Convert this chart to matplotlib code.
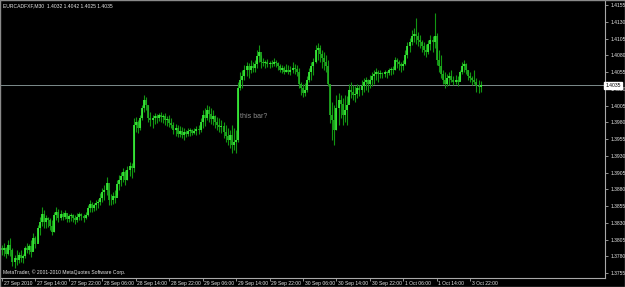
import matplotlib
matplotlib.use("Agg")
import matplotlib.pyplot as plt
from matplotlib.patches import Rectangle

# =========================
# 数据（EURCAD M30，读自截图）
# =========================
SYMBOL = "EURCADFXF,M30"
FIRST_OPEN = 1.3792

high = [
    1.3797, 1.3800, 1.3794, 1.3804, 1.3807, 1.3792, 1.3782, 1.3789, 1.3786, 1.3789,
    1.3783, 1.3795, 1.3800, 1.3798, 1.3804, 1.3815, 1.3810, 1.3827, 1.3839, 1.3854,
    1.3849, 1.3842, 1.3839, 1.3837, 1.3834, 1.3846, 1.3854, 1.3851, 1.3849, 1.3846,
    1.3849, 1.3845, 1.3843, 1.3845, 1.3843, 1.3842, 1.3845, 1.3846, 1.3845, 1.3843,
    1.3846, 1.3857, 1.3864, 1.3861, 1.3860, 1.3864, 1.3866, 1.3874, 1.3882, 1.3886,
    1.3898, 1.3879, 1.3873, 1.3876, 1.3879, 1.3894, 1.3901, 1.3906, 1.3912, 1.3909,
    1.3915, 1.3921, 1.3919, 1.3986, 1.3988, 1.3983, 1.3991, 1.4006, 1.4021, 1.4018,
    1.4006, 1.3995, 1.3991, 1.3994, 1.3992, 1.3994, 1.3995, 1.3992, 1.3994, 1.3989,
    1.3991, 1.3986, 1.3980, 1.3977, 1.3976, 1.3974, 1.3973, 1.3971, 1.3968, 1.3971,
    1.3971, 1.3970, 1.3971, 1.3974, 1.3976, 1.3986, 1.3998, 1.4001, 1.4006, 1.4004,
    1.4001, 1.3998, 1.3991, 1.3988, 1.3986, 1.3983, 1.3980, 1.3976, 1.3971, 1.3968,
    1.3976, 1.3971, 1.3968, 1.4040, 1.4055, 1.4058, 1.4065, 1.4070, 1.4068, 1.4073,
    1.4070, 1.4073, 1.4088, 1.4095, 1.4080, 1.4076, 1.4073, 1.4074, 1.4071, 1.4073,
    1.4076, 1.4073, 1.4070, 1.4067, 1.4065, 1.4064, 1.4067, 1.4065, 1.4064, 1.4070,
    1.4067, 1.4065, 1.4061, 1.4040, 1.4037, 1.4039, 1.4049, 1.4061, 1.4070, 1.4076,
    1.4095, 1.4098, 1.4095, 1.4088, 1.4085, 1.4080, 1.4073, 1.4036, 1.4010, 1.4006,
    1.4021, 1.4024, 1.4021, 1.4016, 1.4021, 1.4019, 1.4037, 1.4040, 1.4036, 1.4034,
    1.4037, 1.4036, 1.4043, 1.4046, 1.4048, 1.4045, 1.4051, 1.4055, 1.4058, 1.4061,
    1.4058, 1.4058, 1.4055, 1.4058, 1.4056, 1.4061, 1.4062, 1.4064, 1.4077, 1.4076,
    1.4073, 1.4070, 1.4073, 1.4088, 1.4100, 1.4106, 1.4118, 1.4121, 1.4136, 1.4115,
    1.4110, 1.4103, 1.4100, 1.4097, 1.4103, 1.4110, 1.4109, 1.4143, 1.4113, 1.4088,
    1.4080, 1.4058, 1.4055, 1.4052, 1.4055, 1.4058, 1.4049, 1.4051, 1.4049, 1.4058,
    1.4070, 1.4073, 1.4068, 1.4058, 1.4055, 1.4049, 1.4058, 1.4046, 1.4043, 1.4042,
]

low = [
    1.3782, 1.3780, 1.3777, 1.3782, 1.3780, 1.3765, 1.3762, 1.3767, 1.3770, 1.3771,
    1.3770, 1.3777, 1.3785, 1.3783, 1.3779, 1.3789, 1.3792, 1.3801, 1.3812, 1.3825,
    1.3822, 1.3822, 1.3824, 1.3819, 1.3812, 1.3816, 1.3834, 1.3831, 1.3834, 1.3834,
    1.3836, 1.3831, 1.3831, 1.3833, 1.3831, 1.3828, 1.3831, 1.3834, 1.3834, 1.3831,
    1.3836, 1.3840, 1.3846, 1.3846, 1.3848, 1.3849, 1.3852, 1.3857, 1.3861, 1.3864,
    1.3872, 1.3857, 1.3857, 1.3858, 1.3860, 1.3872, 1.3879, 1.3885, 1.3891, 1.3886,
    1.3894, 1.3900, 1.3897, 1.3906, 1.3965, 1.3964, 1.3968, 1.3983, 1.3995, 1.3998,
    1.3980, 1.3974, 1.3971, 1.3977, 1.3979, 1.3982, 1.3980, 1.3979, 1.3976, 1.3974,
    1.3973, 1.3971, 1.3962, 1.3959, 1.3958, 1.3958, 1.3956, 1.3954, 1.3958, 1.3959,
    1.3959, 1.3961, 1.3962, 1.3961, 1.3962, 1.3965, 1.3971, 1.3974, 1.3983, 1.3980,
    1.3977, 1.3976, 1.3971, 1.3968, 1.3965, 1.3964, 1.3956, 1.3951, 1.3946, 1.3942,
    1.3934, 1.3939, 1.3934, 1.3951, 1.4028, 1.4031, 1.4043, 1.4049, 1.4046, 1.4053,
    1.4055, 1.4055, 1.4061, 1.4070, 1.4061, 1.4064, 1.4061, 1.4062, 1.4061, 1.4062,
    1.4064, 1.4062, 1.4058, 1.4055, 1.4053, 1.4052, 1.4055, 1.4052, 1.4051, 1.4053,
    1.4052, 1.4049, 1.4031, 1.4021, 1.4018, 1.4019, 1.4025, 1.4040, 1.4043, 1.4051,
    1.4068, 1.4073, 1.4070, 1.4061, 1.4058, 1.4055, 1.4034, 1.3979, 1.3954, 1.3946,
    1.3968, 1.3976, 1.3986, 1.3976, 1.3980, 1.3976, 1.4010, 1.4016, 1.4013, 1.4010,
    1.4016, 1.4019, 1.4021, 1.4025, 1.4028, 1.4025, 1.4031, 1.4034, 1.4037, 1.4043,
    1.4040, 1.4046, 1.4046, 1.4048, 1.4046, 1.4051, 1.4051, 1.4052, 1.4058, 1.4061,
    1.4058, 1.4055, 1.4058, 1.4065, 1.4076, 1.4085, 1.4095, 1.4100, 1.4097, 1.4094,
    1.4091, 1.4085, 1.4080, 1.4077, 1.4082, 1.4088, 1.4085, 1.4091, 1.4065, 1.4055,
    1.4046, 1.4037, 1.4031, 1.4034, 1.4036, 1.4040, 1.4036, 1.4037, 1.4034, 1.4043,
    1.4052, 1.4055, 1.4052, 1.4043, 1.4040, 1.4036, 1.4037, 1.4025, 1.4024, 1.4025,
]

close = [
    1.3789, 1.3792, 1.3783, 1.3797, 1.3789, 1.3771, 1.3777, 1.3774, 1.3782, 1.3777,
    1.3780, 1.3792, 1.3789, 1.3795, 1.3786, 1.3807, 1.3798, 1.3822, 1.3831, 1.3843,
    1.3831, 1.3837, 1.3834, 1.3825, 1.3816, 1.3842, 1.3846, 1.3837, 1.3843, 1.3839,
    1.3845, 1.3836, 1.3840, 1.3842, 1.3837, 1.3834, 1.3839, 1.3843, 1.3840, 1.3837,
    1.3842, 1.3852, 1.3858, 1.3852, 1.3857, 1.3860, 1.3861, 1.3867, 1.3876, 1.3879,
    1.3889, 1.3864, 1.3864, 1.3870, 1.3867, 1.3888, 1.3894, 1.3900, 1.3906, 1.3894,
    1.3909, 1.3915, 1.3912, 1.3976, 1.3980, 1.3971, 1.3986, 1.4001, 1.4013, 1.4006,
    1.3986, 1.3983, 1.3986, 1.3989, 1.3986, 1.3991, 1.3988, 1.3989, 1.3983, 1.3985,
    1.3979, 1.3976, 1.3968, 1.3971, 1.3962, 1.3967, 1.3961, 1.3965, 1.3962, 1.3967,
    1.3968, 1.3964, 1.3967, 1.3970, 1.3968, 1.3980, 1.3991, 1.3986, 1.3998, 1.3992,
    1.3985, 1.3989, 1.3980, 1.3976, 1.3973, 1.3974, 1.3965, 1.3959, 1.3954, 1.3961,
    1.3946, 1.3951, 1.3954, 1.4031, 1.4043, 1.4049, 1.4058, 1.4064, 1.4058, 1.4064,
    1.4061, 1.4067, 1.4079, 1.4085, 1.4070, 1.4068, 1.4070, 1.4067, 1.4068, 1.4067,
    1.4070, 1.4068, 1.4064, 1.4058, 1.4061, 1.4055, 1.4058, 1.4055, 1.4058, 1.4061,
    1.4059, 1.4055, 1.4037, 1.4031, 1.4024, 1.4028, 1.4043, 1.4055, 1.4064, 1.4070,
    1.4088, 1.4091, 1.4082, 1.4076, 1.4070, 1.4064, 1.4037, 1.3991, 1.3983, 1.3968,
    1.4001, 1.4013, 1.4007, 1.3991, 1.3998, 1.4006, 1.4028, 1.4025, 1.4021, 1.4022,
    1.4031, 1.4028, 1.4034, 1.4040, 1.4043, 1.4037, 1.4043, 1.4049, 1.4052, 1.4055,
    1.4052, 1.4053, 1.4052, 1.4055, 1.4053, 1.4058, 1.4059, 1.4058, 1.4073, 1.4070,
    1.4067, 1.4064, 1.4067, 1.4080, 1.4094, 1.4100, 1.4109, 1.4112, 1.4109, 1.4103,
    1.4100, 1.4094, 1.4088, 1.4085, 1.4097, 1.4103, 1.4100, 1.4109, 1.4073, 1.4064,
    1.4052, 1.4043, 1.4037, 1.4046, 1.4049, 1.4043, 1.4040, 1.4043, 1.4040, 1.4055,
    1.4064, 1.4067, 1.4058, 1.4049, 1.4046, 1.4043, 1.4040, 1.4034, 1.4032, 1.4035,
]

time_labels = [
    "27 Sep 2010", "27 Sep 14:00", "27 Sep 22:00", "28 Sep 06:00", "28 Sep 14:00",
    "28 Sep 22:00", "29 Sep 06:00", "29 Sep 14:00", "29 Sep 22:00", "30 Sep 06:00",
    "30 Sep 14:00", "30 Sep 22:00", "1 Oct 06:00", "1 Oct 14:00", "3 Oct 22:00",
]
LABEL_STEP = 16  # 每 16 根 M30 = 8 小时一个时间标签

price_ticks = [1.4155, 1.4130, 1.4105, 1.4080, 1.4055, 1.4030, 1.4005, 1.3980,
               1.3955, 1.3930, 1.3905, 1.3880, 1.3855, 1.3830, 1.3805, 1.3780, 1.3755]

NOTE_TEXT = "this bar?"
NOTE_BAR = 114
NOTE_PRICE = 1.3988

# =========================
# 配色（MT4 Green on Black）
# =========================
BG = "#000000"
FG = "#e6e6e6"
AXIS = "#a8a8a8"
WICK = "#129612"
UP = "#3cf53c"
DOWN = "#22b422"
PRICE_LINE = "#7d8c8c"
SMALL = 3.6  # 截图是缩小过的，字号很小

plt.rcParams["font.family"] = ["Liberation Sans", "DejaVu Sans"]

opens = [FIRST_OPEN] + close[:-1]
n = len(close)
xs = list(range(n))

fig = plt.figure(figsize=(6.25, 2.87), dpi=100)
fig.patch.set_facecolor(BG)
ax = fig.add_axes([1 / 625, 1 - 278 / 287, 604 / 625, 277 / 287])
ax.set_facecolor(BG)

ax.set_xlim(-0.5, 288.5)
ax.set_ylim(1.37476, 1.41610)

# 影线 + 实体
ax.vlines(xs, low, high, color=WICK, lw=0.8, zorder=2)
up_x = [i for i in xs if close[i] >= opens[i]]
dn_x = [i for i in xs if close[i] < opens[i]]
ax.vlines(up_x, [opens[i] for i in up_x], [close[i] for i in up_x], color=UP, lw=1.2, zorder=3)
ax.vlines(dn_x, [close[i] for i in dn_x], [opens[i] for i in dn_x], color=DOWN, lw=1.2, zorder=3)

# 当前价水平线
last = close[-1]
ax.axhline(last, color=PRICE_LINE, lw=0.7, zorder=1)

# 右侧价格轴
ax.yaxis.tick_right()
ax.set_yticks(price_ticks)
ax.set_yticklabels([f"{p:.4f}" for p in price_ticks])
ax.tick_params(axis="y", colors=AXIS, labelcolor=FG, labelsize=SMALL, length=2.5, width=0.6, pad=1.5)
ax.text(1.001, last, f"{last:.4f}", transform=ax.get_yaxis_transform(), ha="left", va="center",
        fontsize=SMALL, color="#000000", zorder=10, clip_on=False,
        bbox=dict(boxstyle="square,pad=0.25", facecolor="#ffffff", edgecolor="#ffffff"))

# 底部时间轴
tick_pos = [k * LABEL_STEP for k in range(len(time_labels))]
ax.set_xticks(tick_pos)
ax.set_xticklabels([])
ax.tick_params(axis="x", colors=AXIS, length=2.5, width=0.6)
for pos, lab in zip(tick_pos, time_labels):
    ax.annotate(lab, (pos, 0), xycoords=ax.get_xaxis_transform(), xytext=(1.2, -2.2),
                textcoords="offset points", ha="left", va="top", fontsize=SMALL, color=FG,
                annotation_clip=False)

for side in ["left", "top"]:
    ax.spines[side].set_visible(False)
for side in ["right", "bottom"]:
    ax.spines[side].set_color(AXIS)
    ax.spines[side].set_linewidth(0.8)

# 文字
ax.text(0.004, 0.99, f"{SYMBOL}  {opens[-1]:.4f} {high[-1]:.4f} {low[-1]:.4f} {close[-1]:.4f}",
        transform=ax.transAxes, ha="left", va="top", fontsize=SMALL, color=FG)
ax.text(0.004, 0.012, "MetaTrader, © 2001-2010 MetaQuotes Software Corp.",
        transform=ax.transAxes, ha="left", va="bottom", fontsize=SMALL, color=FG)
ax.text(NOTE_BAR, NOTE_PRICE, NOTE_TEXT, ha="left", va="center", fontsize=5, color="#8c8c8c", zorder=5)

# 窗口外框
fig.patches.append(Rectangle((0, 0), 1, 1, transform=fig.transFigure, fill=False,
                             edgecolor="#8a8a8a", lw=1.0))

fig.savefig("out.png", dpi=100, facecolor=fig.get_facecolor())
